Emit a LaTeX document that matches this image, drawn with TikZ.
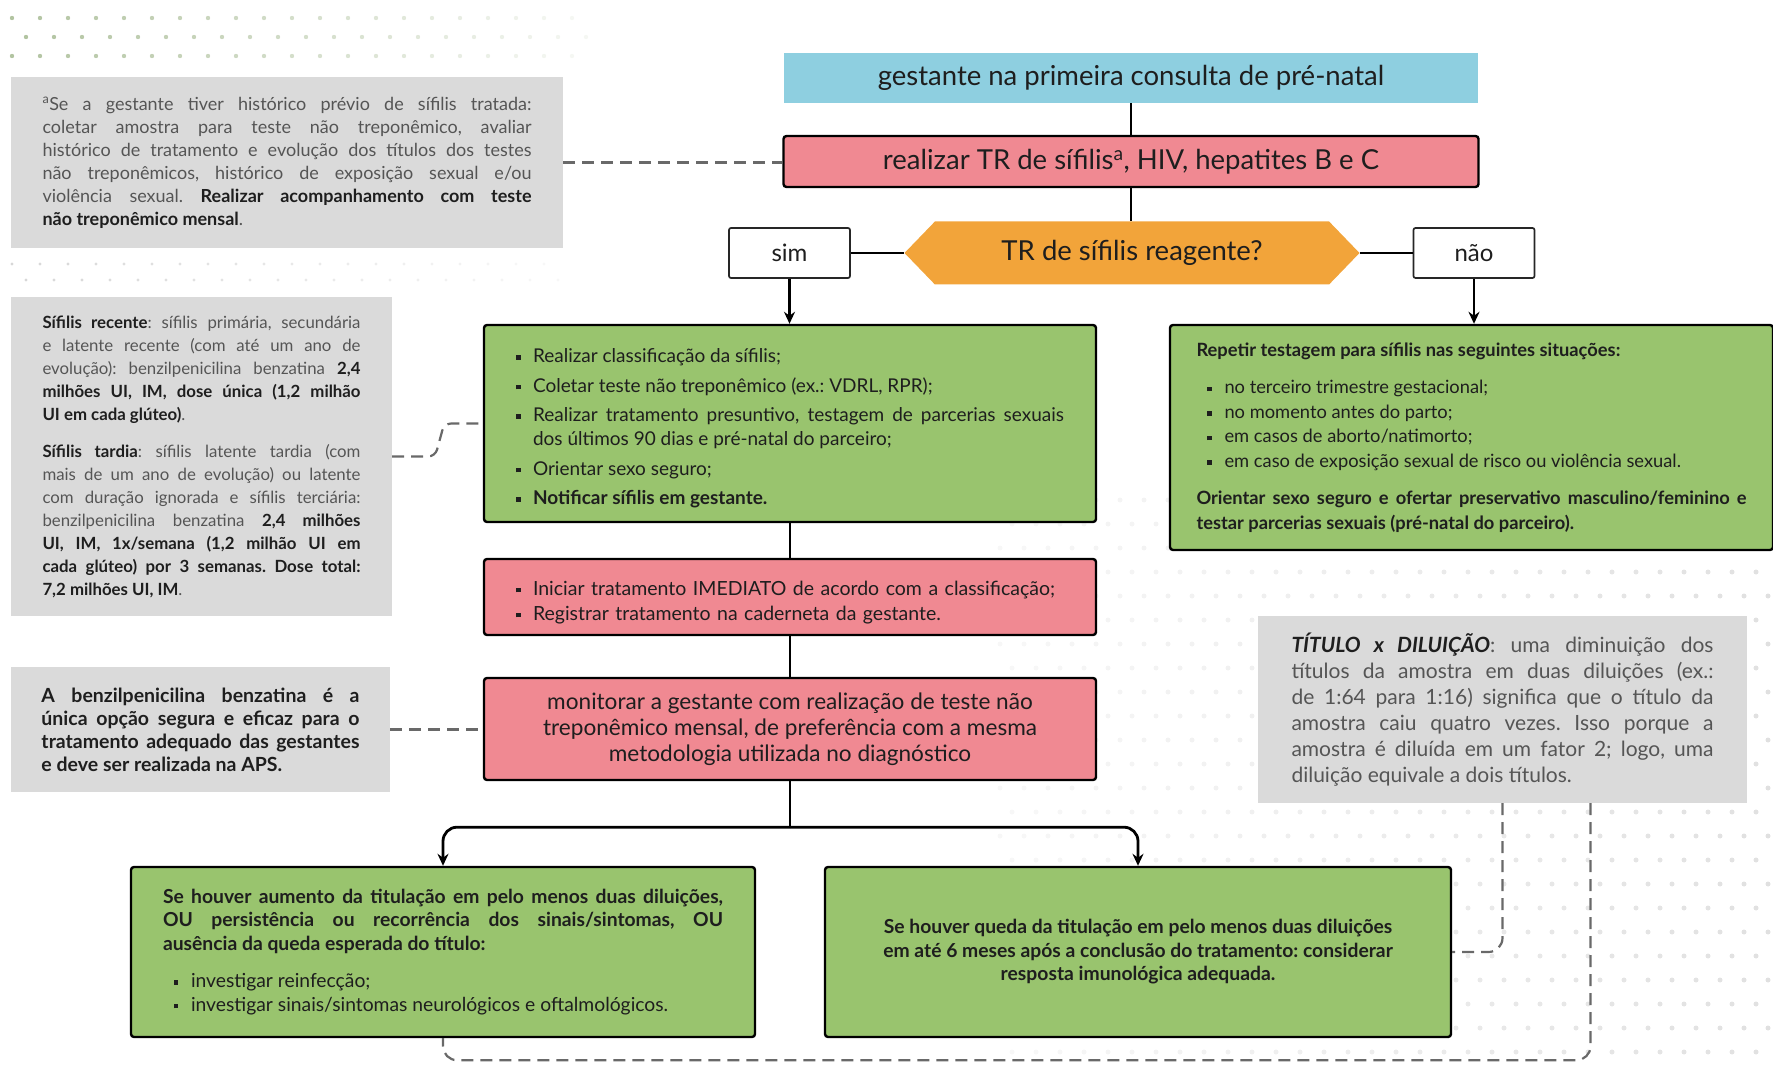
\documentclass[tikz,border=0pt]{standalone}
\usepackage{fontspec}
\setmainfont{Lato}
\usepackage{enumitem}
\usetikzlibrary{arrows.meta,shapes.symbols}

\definecolor{azul}{RGB}{142,207,224}
\definecolor{rosa}{RGB}{240,137,146}
\definecolor{laranja}{RGB}{242,164,58}
\definecolor{verde}{RGB}{153,196,110}
\definecolor{cinzanota}{RGB}{218,218,218}
\definecolor{tinta}{RGB}{30,30,30}
\definecolor{cinzatexto}{RGB}{85,85,85}
\definecolor{tracejado}{RGB}{105,105,105}

\hyphenpenalty=10000
\exhyphenpenalty=10000
\frenchspacing

\setlist[itemize]{nosep, label={\rule[0.3ex]{4.5pt}{4.5pt}}, leftmargin=17pt, labelwidth=4.5pt, labelsep=12.5pt}

\tikzset{
  caixa/.style={draw=black, line width=2.4pt, rounded corners=3pt, inner sep=0pt, text=tinta},
  lembrete/.style={fill=cinzanota, inner sep=0pt, text=cinzatexto, align=justify},
  opcao/.style={draw=black!85, line width=1.7pt, rounded corners=2pt, fill=white, inner sep=0pt,
    minimum width=121pt, minimum height=50pt, text=tinta, font=\fontsize{24}{28}\selectfont},
  ligacao/.style={draw=black, line width=2.8pt},
  seta/.style={ligacao, -{Stealth[length=12pt,width=11pt]}},
  tracado/.style={draw=tracejado, line width=2.2pt, dash pattern=on 12pt off 7pt}
}

\begin{document}
\begin{tikzpicture}[x=1pt,y=-1pt]
\useasboundingbox (0,0) rectangle (1773,1067);

% pontos de fundo
\foreach \i in {0,...,20}{
  \pgfmathsetmacro\op{0.55-0.024*\i}
  \foreach \j in {0,1,2}
    \fill[verde!75!black, opacity=\op] ({12+28*\i+14*mod(\j,2)},{18+19*\j}) circle (2.2pt);
}
\foreach \i in {0,...,19}{
  \pgfmathsetmacro\op{0.35-0.015*\i}
  \foreach \j in {0,1}
    \fill[black!45, opacity=\op] ({12+28*\i+14*\j},{264+16*\j}) circle (1.6pt);
}
\foreach \i in {0,...,32}{
  \pgfmathsetmacro\op{0.03+0.09*\i/32}
  \foreach \j in {0,...,23}
    \fill[black, opacity=\op] ({1000+24*\i+12*mod(\j,2)},{500+24*\j}) circle (2.5pt);
}

% notas laterais
\node[lembrete, minimum width=552pt, minimum height=171pt, text width=489pt,
  font=\fontsize{18}{23}\selectfont] (historico) at (287,162.5)
  {\textsuperscript{a}Se a gestante tiver histórico prévio de sífilis tratada:\linebreak
  coletar amostra para teste não treponêmico, avaliar\linebreak
  histórico de tratamento e evolução dos títulos dos testes\linebreak
  não treponêmicos, histórico de exposição sexual e/ou\linebreak
  violência sexual. \textbf{\color{tinta}Realizar acompanhamento com teste\linebreak
  não treponêmico mensal}.};

\node[lembrete, minimum width=381pt, minimum height=319pt, text width=318pt,
  font=\fontsize{16.8}{23}\selectfont] (recente) at (201.5,456.5)
  {\textbf{\color{tinta}Sífilis recente}: sífilis primária, secundária\linebreak
  e latente recente (com até um ano de\linebreak
  evolução): benzilpenicilina benzatina \textbf{\color{tinta}2,4\linebreak
  milhões UI, IM, dose única (1,2 milhão\linebreak
  UI em cada glúteo)}.\par\vspace{14pt}
  \textbf{\color{tinta}Sífilis tardia}: sífilis latente tardia (com\linebreak
  mais de um ano de evolução) ou latente\linebreak
  com duração ignorada e sífilis terciária:\linebreak
  benzilpenicilina benzatina \textbf{\color{tinta}2,4 milhões\linebreak
  UI, IM, 1x/semana (1,2 milhão UI em\linebreak
  cada glúteo) por 3 semanas. Dose total:\linebreak
  7,2 milhões UI, IM}.};

\node[lembrete, minimum width=379pt, minimum height=125pt, text width=318pt, text=tinta,
  font=\bfseries\fontsize{19.5}{23}\selectfont] (penicilina) at (200.5,729.5)
  {A benzilpenicilina benzatina é a\linebreak
  única opção segura e eficaz para o\linebreak
  tratamento adequado das gestantes\linebreak
  e deve ser realizada na APS.};

\node[lembrete, minimum width=489pt, minimum height=187pt, text width=422pt,
  font=\fontsize{21}{26}\selectfont] (titulo) at (1502.5,709.5)
  {\textbf{\textit{\color{tinta}TÍTULO x DILUIÇÃO}}: uma diminuição dos\linebreak
  títulos da amostra em duas diluições (ex.:\linebreak
  de 1:64 para 1:16) significa que o título da\linebreak
  amostra caiu quatro vezes. Isso porque a\linebreak
  amostra é diluída em um fator 2; logo, uma\linebreak
  diluição equivale a dois títulos.};

% fluxo principal
\node[fill=azul, inner sep=0pt, minimum width=694pt, minimum height=50pt, text=tinta,
  font=\fontsize{27.5}{30}\selectfont] (gestante) at (1131,78)
  {gestante na primeira consulta de pré-natal};
\node[caixa, fill=rosa, minimum width=695pt, minimum height=51pt,
  font=\fontsize{27.5}{30}\selectfont] (realizar) at (1131,161.5)
  {realizar TR de sífilis\textsuperscript{a}, HIV, hepatites B e C};
\node[signal, signal to=west and east, signal pointer angle=92, fill=laranja, inner sep=0pt,
  minimum width=455pt, minimum height=63pt, text=tinta,
  font=\fontsize{27.5}{30}\selectfont] (reagente) at (1132,253) {TR de sífilis reagente?};
\node[opcao] (sim) at (789.5,253) {sim};
\node[opcao] (nao) at (1474,253) {não};

\node[caixa, fill=verde, minimum width=612pt, minimum height=197pt, text width=548pt, align=justify,
  font=\fontsize{19}{24}\selectfont] (acoes) at (790,423.5)
  {\begin{itemize}[itemsep=5.5pt]
    \item Realizar classificação da sífilis;
    \item Coletar teste não treponêmico (ex.: VDRL, RPR);
    \item Realizar tratamento presuntivo, testagem de parcerias sexuais dos últimos 90 dias e pré-natal do parceiro;
    \item Orientar sexo seguro;
    \item \textbf{Notificar sífilis em gestante.}
  \end{itemize}};

\node[caixa, fill=verde, minimum width=603pt, minimum height=225pt, text width=550pt, align=justify,
  font=\fontsize{18.3}{24.5}\selectfont] (repetir) at (1471.5,437.5)
  {\textbf{Repetir testagem para sífilis nas seguintes situações:}
  \begin{itemize}[leftmargin=28pt, labelsep=13pt, topsep=13pt]
    \item no terceiro trimestre gestacional;
    \item no momento antes do parto;
    \item em casos de aborto/natimorto;
    \item em caso de exposição sexual de risco ou violência sexual.
  \end{itemize}
  \textbf{Orientar sexo seguro e ofertar preservativo masculino/feminino e testar parcerias sexuais (pré-natal do parceiro).}};

\node[caixa, fill=rosa, minimum width=612pt, minimum height=76pt, text width=548pt,
  font=\fontsize{19.5}{25}\selectfont] (iniciar) at (790,597)
  {\begin{itemize}
    \item Iniciar tratamento IMEDIATO de acordo com a classificação;
    \item Registrar tratamento na caderneta da gestante.
  \end{itemize}};

\node[caixa, fill=rosa, minimum width=612pt, minimum height=102pt, align=center,
  font=\fontsize{22.6}{26}\selectfont] (monitorar) at (790,729)
  {monitorar a gestante com realização de teste não\\treponêmico mensal, de preferência com a mesma\\metodologia utilizada no diagnóstico};

\node[caixa, fill=verde, minimum width=624pt, minimum height=170pt, text width=560pt, align=justify,
  font=\fontsize{19.3}{23.5}\selectfont] (aumento) at (443,952)
  {\textbf{Se houver aumento da titulação em pelo menos duas diluições,\linebreak
  OU persistência ou recorrência dos sinais/sintomas, OU\linebreak
  ausência da queda esperada do título:}
  \begin{itemize}[leftmargin=28pt, labelsep=13pt, topsep=14pt]
    \item investigar reinfecção;
    \item investigar sinais/sintomas neurológicos e oftalmológicos.
  \end{itemize}};

\node[caixa, fill=verde, minimum width=626pt, minimum height=170pt, align=center,
  font=\bfseries\fontsize{19.3}{23.5}\selectfont] (queda) at (1138,952)
  {Se houver queda da titulação em pelo menos duas diluições\\em até 6 meses após a conclusão do tratamento: considerar\\resposta imunológica adequada.};

% ligacoes
\draw[ligacao] (gestante) -- (realizar);
\draw[ligacao] (realizar.south) -- (realizar.south |- reagente.north);
\draw[ligacao] (reagente.west) -- (sim.east);
\draw[ligacao] (reagente.east) -- (nao.west);
\draw[seta] (sim.south) -- (sim.south |- acoes.north);
\draw[seta] (nao.south) -- (nao.south |- repetir.north);
\draw[ligacao] (acoes) -- (iniciar);
\draw[ligacao] (iniciar) -- (monitorar);
\draw[ligacao] (monitorar.south) -- ++(0,46) coordinate (ramo);
\draw[seta, rounded corners=14pt] (ramo) -| (aumento);
\draw[seta, rounded corners=14pt] (ramo) -| (queda);

% notas tracejadas
\draw[tracado] (historico.east) -- (historico.east -| realizar.west);
\draw[tracado, rounded corners=7pt] (recente.east) -- ++(43,0) -- ++(9,-33) -- (acoes.west);
\draw[tracado] (penicilina.east) -- (penicilina.east -| monitorar.west);
\draw[tracado, rounded corners=14pt] (titulo.south) |- (queda.east);
\draw[tracado, rounded corners=14pt] ([xshift=88pt]titulo.south) -- ++(0,257) -| (aumento.south);
\end{tikzpicture}
\end{document}
